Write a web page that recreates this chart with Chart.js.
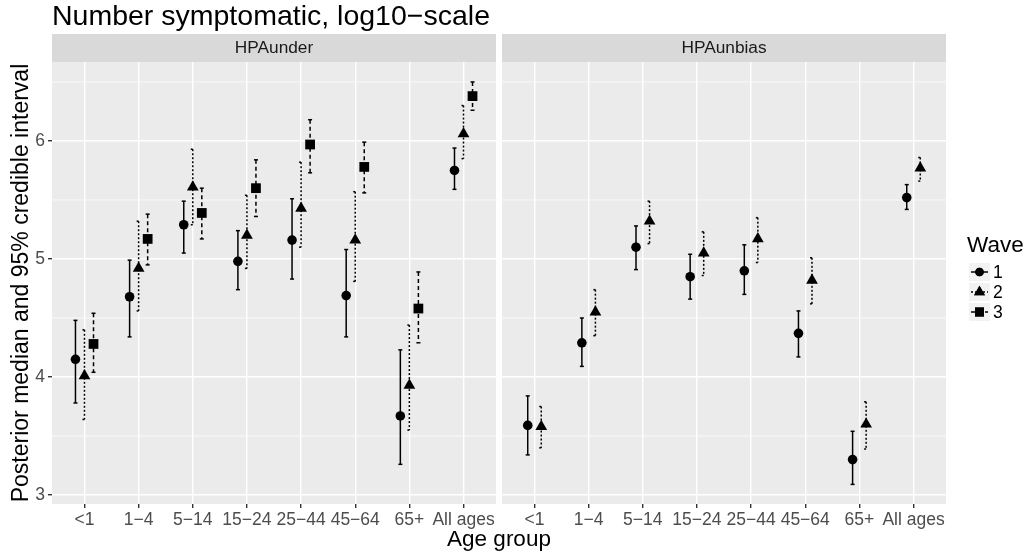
<!DOCTYPE html>
<html>
<head>
<meta charset="utf-8">
<script src="https://cdn.jsdelivr.net/npm/chart.js@4"></script>
<style>
  body { margin: 0; background: #fff; font-family: "Liberation Sans", Arial, sans-serif; }
  #wrap { position: relative; width: 1031px; height: 559px; overflow: hidden; }
  .txt { position: absolute; white-space: nowrap; color: #000; }
  #c1 { position: absolute; left: 0; top: 0; }
  #c2 { position: absolute; left: 500px; top: 0; }
</style>
</head>
<body>
<div id="wrap">
  <canvas id="c1" width="500" height="559"></canvas>
  <canvas id="c2" width="531" height="559"></canvas>
  <div class="txt" style="left:52px; top:1px; font-size:28.5px; line-height:28px;">Number symptomatic, log10−scale</div>
  <div class="txt" style="left:299px; top:528px; width:400px; text-align:center; font-size:22.5px; line-height:22px;">Age group</div>
  <div class="txt" style="left:-230px; top:272px; width:500px; text-align:center; font-size:23px; line-height:22px; transform:rotate(-90deg);">Posterior median and 95% credible interval</div>
</div>
<script>
// categories and ticks
const ageGroups = ['<1', '1−4', '5−14', '15−24', '25−44', '45−64', '65+', 'All ages'];
const yTicks = [3, 4, 5, 6];
const waves = ['1', '2', '3'];

// HPAunder panel: medians and 95% interval bounds, per wave
const underW1 = [4.15, 4.68, 5.29, 4.98, 5.16, 4.69, 3.67, 5.75];
const underW1Lo = [3.78, 4.34, 5.05, 4.74, 4.83, 4.34, 3.26, 5.59];
const underW1Hi = [4.48, 4.99, 5.49, 5.24, 5.51, 5.08, 4.23, 5.94];
const underW2 = [4.01, 4.92, 5.61, 5.20, 5.43, 5.16, 3.93, 6.06];
const underW2Lo = [3.64, 4.56, 5.29, 4.92, 5.10, 4.81, 3.55, 5.85];
const underW2Hi = [4.40, 5.32, 5.93, 5.54, 5.82, 5.57, 4.44, 6.30];
const underW3 = [4.28, 5.17, 5.39, 5.60, 5.97, 5.78, 4.58, 6.38];
const underW3Lo = [4.04, 4.95, 5.17, 5.36, 5.73, 5.56, 4.29, 6.26];
const underW3Hi = [4.54, 5.38, 5.60, 5.84, 6.18, 5.99, 4.89, 6.50];

// HPAunbias panel
const unbiasW1 = [3.59, 4.29, 5.10, 4.85, 4.90, 4.37, 3.30, 5.52];
const unbiasW1Lo = [3.34, 4.09, 4.91, 4.66, 4.70, 4.17, 3.09, 5.42];
const unbiasW1Hi = [3.84, 4.50, 5.28, 5.04, 5.12, 4.56, 3.54, 5.63];
const unbiasW2 = [3.58, 4.55, 5.32, 5.05, 5.17, 4.82, 3.60, 5.77];
const unbiasW2Lo = [3.40, 4.35, 5.13, 4.86, 4.97, 4.62, 3.39, 5.66];
const unbiasW2Hi = [3.75, 4.74, 5.49, 5.23, 5.35, 5.01, 3.79, 5.86];

const FONT = '"Liberation Sans", Arial, sans-serif';
const shapes = ['circle', 'triangle', 'rect'];
const radii = [4.8, 6.8, 6.9];
const dashes = [[], [2, 2], [4, 3]];

// position_dodge(width = 0.5)
function dodge(i, n) {
    return -0.25 + 0.25 / n + i * 0.5 / n;
}

function makeSets(series) {
    return series.map((s, i) => ({
        data: s.med.map((m, j) => ({ x: j + 1 + dodge(i, series.length), y: m })),
        lo: s.lo,
        hi: s.hi,
        dash: dashes[i],
        pointStyle: shapes[i],
        pointRadius: radii[i],
        backgroundColor: '#000',
        borderColor: '#000',
        borderWidth: 0
    }));
}

const panelBg = {
    id: 'panelBg',
    beforeDraw(chart) {
        const { ctx, chartArea: a, scales: { y } } = chart;
        ctx.save();
        ctx.fillStyle = '#ebebeb';
        ctx.fillRect(a.left, a.top, a.right - a.left, a.bottom - a.top);
        // minor grid
        ctx.strokeStyle = '#fff';
        ctx.lineWidth = 0.7;
        [3.5, 4.5, 5.5, 6.5].forEach(v => {
            const py = y.getPixelForValue(v);
            ctx.beginPath();
            ctx.moveTo(a.left, py);
            ctx.lineTo(a.right, py);
            ctx.stroke();
        });
        ctx.restore();
    },
    afterDraw(chart) {
        const { ctx, chartArea: a } = chart;
        ctx.save();
        ctx.fillStyle = '#d9d9d9';
        ctx.fillRect(a.left, 34, a.right - a.left, 28);
        ctx.fillStyle = '#1a1a1a';
        ctx.font = '17.3px ' + FONT;
        ctx.textAlign = 'center';
        ctx.textBaseline = 'middle';
        ctx.fillText(chart.options.stripLabel, (a.left + a.right) / 2, 48.5);
        ctx.restore();
    }
};

const errorBars = {
    id: 'errorBars',
    beforeDatasetsDraw(chart) {
        const { ctx, scales: { x, y } } = chart;
        const cap = 2;
        chart.data.datasets.forEach(ds => {
            ctx.save();
            ctx.strokeStyle = '#000';
            ctx.lineWidth = 1.5;
            ctx.setLineDash(ds.dash);
            ds.data.forEach((p, i) => {
                const px = x.getPixelForValue(p.x);
                const top = y.getPixelForValue(ds.hi[i]);
                const bot = y.getPixelForValue(ds.lo[i]);
                ctx.beginPath();
                ctx.moveTo(px - cap, top); ctx.lineTo(px + cap, top);
                ctx.stroke();
                ctx.beginPath();
                ctx.moveTo(px, top); ctx.lineTo(px, bot);
                ctx.stroke();
                ctx.beginPath();
                ctx.moveTo(px - cap, bot); ctx.lineTo(px + cap, bot);
                ctx.stroke();
            });
            ctx.restore();
        });
    }
};

const legendPlugin = {
    id: 'waveLegend',
    afterDraw(chart) {
        const { ctx } = chart;
        const x0 = 469;
        ctx.save();
        ctx.fillStyle = '#000';
        ctx.font = '22.5px ' + FONT;
        ctx.textBaseline = 'alphabetic';
        ctx.fillText('Wave', 467, 252);
        waves.forEach((w, i) => {
            const cy = 272 + i * 20;
            ctx.fillStyle = '#f2f2f2';
            ctx.fillRect(x0, cy - 9, 21, 18);
            ctx.strokeStyle = '#000';
            ctx.lineWidth = 1.5;
            ctx.setLineDash(dashes[i]);
            ctx.beginPath();
            ctx.moveTo(x0 + 2, cy);
            ctx.lineTo(x0 + 19, cy);
            ctx.stroke();
            ctx.setLineDash([]);
            ctx.fillStyle = '#000';
            Chart.helpers.drawPoint(ctx, { pointStyle: shapes[i], radius: radii[i] - 0.5, borderWidth: 0 }, x0 + 10.5, cy);
            ctx.fill();
            ctx.fillStyle = '#000';
            ctx.font = '17.5px ' + FONT;
            ctx.textBaseline = 'middle';
            ctx.fillText(w, x0 + 24, cy + 1);
        });
        ctx.restore();
    }
};

function scalesFor(showY) {
    const tickFont = { family: FONT, size: 17.5 };
    return {
        x: {
            type: 'linear',
            min: 0.4,
            max: 8.6,
            afterBuildTicks: s => { s.ticks = ageGroups.map((g, i) => ({ value: i + 1 })); },
            afterFit: s => { s.height = 55; },
            ticks: {
                autoSkip: false,
                maxRotation: 0,
                padding: 2,
                color: '#4d4d4d',
                font: tickFont,
                callback: v => ageGroups[v - 1]
            },
            grid: { color: '#fff', lineWidth: 1.4, tickColor: '#333', tickLength: 4 },
            border: { display: false }
        },
        y: {
            type: 'linear',
            min: 2.924,
            max: 6.669,
            afterBuildTicks: s => { s.ticks = yTicks.map(v => ({ value: v })); },
            afterFit: s => { s.width = showY ? 52 : 0; },
            ticks: { display: showY, padding: 3, color: '#4d4d4d', font: tickFont },
            grid: { color: '#fff', lineWidth: 1.4, tickColor: '#333', tickLength: 4, drawTicks: showY },
            border: { display: false }
        }
    };
}

function makeChart(id, series, label, showY, padding, extra) {
    return new Chart(document.getElementById(id), {
        type: 'scatter',
        data: { datasets: makeSets(series) },
        options: {
            stripLabel: label,
            responsive: false,
            animation: false,
            events: [],
            layout: { padding: padding, autoPadding: false },
            plugins: { legend: { display: false }, tooltip: { enabled: false } },
            scales: scalesFor(showY)
        },
        plugins: [panelBg, errorBars].concat(extra)
    });
}

makeChart('c1', [
    { med: underW1, lo: underW1Lo, hi: underW1Hi },
    { med: underW2, lo: underW2Lo, hi: underW2Hi },
    { med: underW3, lo: underW3Lo, hi: underW3Hi }
], 'HPAunder', true, { top: 62, left: 0, right: 4, bottom: 0 }, []);

makeChart('c2', [
    { med: unbiasW1, lo: unbiasW1Lo, hi: unbiasW1Hi },
    { med: unbiasW2, lo: unbiasW2Lo, hi: unbiasW2Hi }
], 'HPAunbias', false, { top: 62, left: 2, right: 85, bottom: 0 }, [legendPlugin]);
</script>
</body>
</html>
